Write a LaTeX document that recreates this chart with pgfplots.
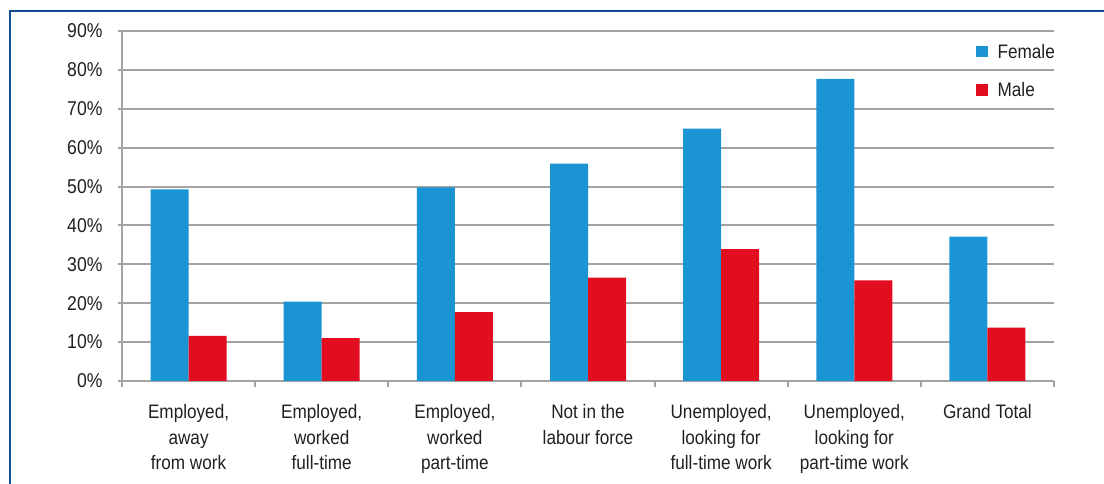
\documentclass[border=0pt]{standalone}
\usepackage{fontspec}
\setmainfont{Liberation Sans}[FakeStretch=0.88]
\usepackage{pgfplots}
\pgfplotsset{compat=1.18}
\definecolor{fem}{HTML}{1A94D2}
\definecolor{mal}{HTML}{E30D20}
\definecolor{gridc}{HTML}{A3A3A3}
\definecolor{framec}{HTML}{0F4E96}
\definecolor{txt}{HTML}{231F20}
\begin{document}
\begin{tikzpicture}[x=1pt,y=1pt]
\useasboundingbox (0,0) rectangle (1104,484);
\draw[framec, line width=1.5pt] (10,0) -- (10,473) -- (1104,473);
\begin{axis}[
  at={(122pt,103pt)}, anchor=south west,
  width=932pt, height=350pt, scale only axis,
  xmin=-0.5, xmax=6.5, ymin=0, ymax=90,
  ybar=0pt, bar width=38pt,
  axis x line=bottom, axis y line=left,
  axis line style={gridc, line width=2pt, -},
  ytick={0,10,...,90},
  yticklabels={0\%,10\%,20\%,30\%,40\%,50\%,60\%,70\%,80\%,90\%},
  ymajorgrids, grid style={gridc, line width=1.9pt},
  xtick={0,...,6},
  xticklabels={{Employed,\\away\\from work},{Employed,\\worked\\full-time},{Employed,\\worked\\part-time},{Not in the\\labour force},{Unemployed,\\looking for\\full-time work},{Unemployed,\\looking for\\part-time work},{Grand Total}},
  minor xtick={-0.5,0.5,...,6.5},
  major x tick style={draw=none},
  minor x tick style={gridc, line width=1.9pt},
  major y tick style={gridc, line width=1.9pt},
  tick align=outside, major tick length=4pt, minor tick length=6pt,
  x tick label style={align=center, font=\fontsize{19.5}{25.5}\selectfont, text=txt, anchor=north, yshift=-16pt},
  y tick label style={font=\fontsize{20}{23}\selectfont, text=txt, xshift=-12pt},
  legend style={at={(0.913,0.975)}, anchor=north west, draw=none, fill=none,
    font=\fontsize{19.5}{23}\selectfont, text=txt, row sep=19pt,
    /tikz/every odd column/.append style={column sep=8pt}},
  legend cell align=left,
  legend image code/.code={\fill[#1] (0pt,-5.5pt) rectangle (11.5pt,6pt);},
]
\addplot[fill=fem, draw=none] coordinates {(0,49.3) (1,20.4) (2,49.8) (3,55.9) (4,64.9) (5,77.7) (6,37.1)};
\addplot[fill=mal, draw=none] coordinates {(0,11.6) (1,11.0) (2,17.7) (3,26.6) (4,33.9) (5,25.9) (6,13.7)};
\legend{Female,Male}
\end{axis}
\end{tikzpicture}
\end{document}
